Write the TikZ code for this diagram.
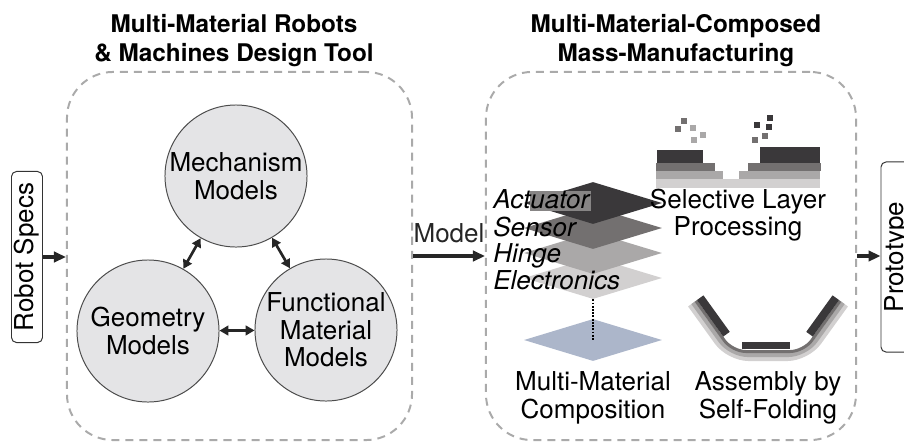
\documentclass[tikz,border=0pt]{standalone}
\usepackage{fontspec}
\setmainfont{TeX Gyre Heros}
\usetikzlibrary{arrows.meta,shapes.geometric}

\definecolor{capaA}{RGB}{58,56,58}
\definecolor{capaB}{RGB}{115,112,112}
\definecolor{capaC}{RGB}{170,168,168}
\definecolor{capaD}{RGB}{210,208,208}
\definecolor{capaBase}{RGB}{172,182,202}
\definecolor{fondoMod}{RGB}{228,228,230}
\definecolor{bordeGris}{RGB}{170,170,170}
\definecolor{parche}{RGB}{135,133,133}

\begin{document}
\begin{tikzpicture}[x=0.025cm, y=-0.025cm,
      marco/.style={draw=bordeGris, line width=1.4pt, dash pattern=on 0.2cm off 0.15cm, rounded corners=1.15cm, minimum height=9.2cm},
      modelo/.style={circle, draw=black!70, line width=0.7pt, fill=fondoMod, minimum size=3.55cm, inner sep=0pt, align=center, font=\texto},
      entrada/.style={draw=black!80, line width=0.7pt, rounded corners=0.125cm, rotate=90, inner sep=1pt, minimum height=0.775cm, font=\texto},
      flecha/.style={-{Triangle[length=0.3cm, width=0.26cm]}, line width=2.3pt, black!85},
      doble/.style={{Triangle[length=0.22cm, width=0.24cm]}-{Triangle[length=0.22cm, width=0.24cm]}, line width=1.9pt, black!85},
      capa/.style={diamond, inner sep=0pt, minimum width=3.45cm, minimum height=1.05cm},
      etiqueta/.style={font=\texto\itshape, inner sep=0pt, anchor=base west},
      titulo/.style={font=\bfseries\fontsize{17.3}{20.6}\selectfont, align=center, inner sep=0pt},
      leyenda/.style={font=\texto, align=center, inner sep=0pt}
    ]
    \providecommand{\texto}{\fontsize{18.5}{19.5}\selectfont}
    \useasboundingbox (0,0) rectangle (904,443);

    % --- Herramienta de diseno ---
    \node[titulo] (tit1) at (234,41) {Multi-Material Robots\\\& Machines Design Tool};
    \node[marco, minimum width=8.625cm] (diseno) at (239.5,256) {};
    \node[modelo] (meca) at (236,176) {Mechanism\\Models};
    \node[modelo] (geom) at (148,331) {Geometry\\Models};
    \node[modelo] (func) at (326,330) {Functional\\Material\\Models};
    \draw[doble] (meca) -- (geom);
    \draw[doble] (meca) -- (func);
    \draw[doble] (geom) -- (func);

    % --- Entrada ---
    \node[entrada, minimum width=4.275cm] (specs) at (27,257) {Robot Specs};
    \draw[flecha] (specs.south) -- (specs.south -| diseno.west);

    % --- Fabricacion ---
    \node[titulo] (tit2) at (676,41) {Multi-Material-Composed\\Mass-Manufacturing};
    \node[marco, minimum width=9.25cm] (fabrica) at (671,256) {};
    \draw[flecha] (diseno.east) -- node[leyenda, above=8.5pt] {Model} (fabrica.west);

    % capas apiladas
    \node[capa, fill=capaD] (elec) at (593,278) {};
    \node[capa, fill=capaC] (bisagra) at (593,253) {};
    \node[capa, fill=capaB] (sensor) at (593,228) {};
    \node[capa, fill=capaA] (actuador) at (593,203) {};
    \fill[parche] (530,191) rectangle (591,211);
    \node[etiqueta] (lblA) at (493,208) {Actuator};
    \node[etiqueta] (lblS) at (493,236) {Sensor};
    \node[etiqueta] (lblH) at (493,262) {Hinge};
    \node[etiqueta] (lblE) at (493,289) {Electronics};
    \node[capa, fill=capaBase] (compo) at (593,340) {};
    \draw[densely dotted, line width=1.3pt] (elec.south) -- (compo.center);
    \node[leyenda] (txtCompo) at (593,398) {Multi-Material\\Composition};

    % procesado selectivo
    \fill[capaD] (656,179) rectangle (820,188);
    \fill[capaC] (656,171) rectangle (723,179);
    \fill[capaC] (739,171) rectangle (820,179);
    \fill[capaB] (656,163) rectangle (715,171);
    \fill[capaB] (748,163) rectangle (821,171);
    \fill[capaA] (657,150) rectangle (703,163);
    \fill[capaA] (760,147) rectangle (820,163);
    \foreach \px/\py/\c in {675/126/capaB, 681/118/capaB, 690/125/capaC, 700/132/capaC, 691/137/capaC,
                            754/122/capaA, 766/124/capaA, 767/115/capaA, 762/133/capaB, 752/137/capaB}
      \fill[\c] (\px,\py) rectangle ++(6,6);
    \node[leyenda] (txtSel) at (738,215) {Selective Layer\\Processing};

    % autoplegado
    \draw[capaD, line width=5.7pt, rounded corners=0.475cm] (691.3,304.1) -- (729.4,357) -- (806.6,357) -- (844.7,304.1);
    \draw[capaC, line width=2.85pt, rounded corners=0.425cm] (692.95,302.9) -- (730.45,355) -- (805.55,355) -- (843.05,302.9);
    \draw[capaB, line width=2.13pt, rounded corners=0.34cm] (695.8,300.9) -- (732.2,351.5) -- (803.8,351.5) -- (840.2,300.9);
    \draw[capaA, line width=5.7pt] (700.2,297.7) -- (726.5,334.2);
    \draw[capaA, line width=5.7pt] (835.8,297.7) -- (809.5,334.2);
    \fill[capaA] (742,342) rectangle (790,349);
    \node[leyenda] (txtPleg) at (768,398) {Assembly by\\Self-Folding};

    % --- Salida ---
    \node[entrada, minimum width=4.75cm] (proto) at (896.5,257) {Prototype};
    \draw[flecha] (fabrica.east) -- (fabrica.east -| proto.north);
  \end{tikzpicture}
\end{document}
